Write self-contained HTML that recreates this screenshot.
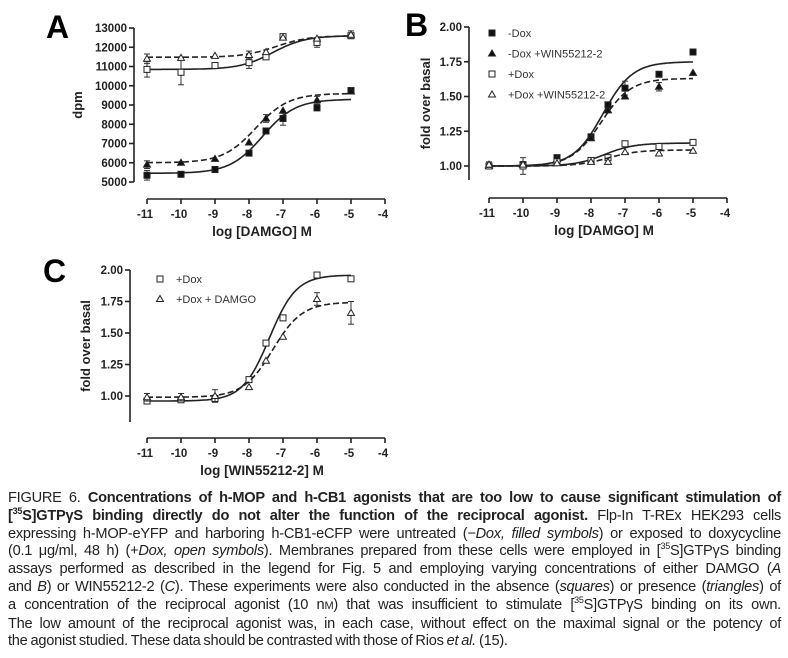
<!DOCTYPE html>
<html><head><meta charset="utf-8">
<style>
html,body{margin:0;padding:0;background:#fff;}
body{width:788px;height:658px;position:relative;overflow:hidden;font-family:"Liberation Sans",sans-serif;}
#cap{position:absolute;left:8px;top:490px;width:773px;font-size:14.6px;line-height:17.8px;color:#222;letter-spacing:-0.25px;word-spacing:-0.8px;}
#cap div{text-align:justify;text-align-last:justify;white-space:nowrap;}
#cap div.last{text-align-last:left;}
sup{font-size:9px;line-height:0;}
</style></head><body>
<svg id="fig" width="788" height="480" style="position:absolute;left:0;top:0" font-family="Liberation Sans, sans-serif"></svg>
<div id="cap">
<div>FIGURE 6. <b>Concentrations of h-MOP and h-CB1 agonists that are too low to cause significant stimulation of</b></div>
<div><b>[<sup>35</sup>S]GTPγS binding directly do not alter the function of the reciprocal agonist.</b> Flp-In T-REx HEK293 cells</div>
<div>expressing h-MOP-eYFP and harboring h-CB1-eCFP were untreated (−<i>Dox, filled symbols</i>) or exposed to doxycycline</div>
<div>(0.1 μg/ml, 48 h) (+<i>Dox, open symbols</i>). Membranes prepared from these cells were employed in [<sup>35</sup>S]GTPγS binding</div>
<div>assays performed as described in the legend for Fig. 5 and employing varying concentrations of either DAMGO (<i>A</i></div>
<div>and <i>B</i>) or WIN55212-2 (<i>C</i>). These experiments were also conducted in the absence (<i>squares</i>) or presence (<i>triangles</i>) of</div>
<div>a concentration of the reciprocal agonist (10 n<span style="font-size:11px">M</span>) that was insufficient to stimulate [<sup>35</sup>S]GTPγS binding on its own.</div>
<div>The low amount of the reciprocal agonist was, in each case, without effect on the maximal signal or the potency of</div>
<div class="last">the agonist studied. These data should be contrasted with those of Rios <i>et al.</i> (15).</div>
</div>
<script>
const xDoses = [-11,-10,-9,-8,-7.5,-7,-6,-5];
const xTicks = [-11,-10,-9,-8,-7,-6,-5,-4];
// Panel A
const aTicks = [5000,6000,7000,8000,9000,10000,11000,12000,13000];
const aOpenSq = [10850,10700,11050,11200,11500,12550,12250,12600];
const aOpenTri = [11400,11450,11550,11600,11750,12500,12450,12650];
const aFillSq = [5350,5400,5650,6500,7650,8300,8850,9750];
const aFillTri = [5900,6000,6200,7050,8300,8700,9250,9700];
// Panel B
const bTicks = [1.00,1.25,1.50,1.75,2.00];
const bFillSq = [1.00,1.01,1.06,1.21,1.44,1.56,1.66,1.82];
const bFillTri = [1.00,1.01,1.05,1.20,1.40,1.50,1.57,1.67];
const bOpenSq = [1.00,1.00,1.03,1.04,1.06,1.16,1.14,1.17];
const bOpenTri = [1.01,1.01,1.02,1.03,1.03,1.10,1.09,1.11];
// Panel C
const cTicks = [1.00,1.25,1.50,1.75,2.00];
const cOpenSq = [0.96,0.97,0.98,1.13,1.42,1.62,1.96,1.93];
const cOpenTri = [0.99,0.99,1.00,1.07,1.28,1.47,1.77,1.66];

const NS='http://www.w3.org/2000/svg';
const svg=document.getElementById('fig');
function el(tag,attrs,parent,text){const e=document.createElementNS(NS,tag);for(const k in attrs)e.setAttribute(k,attrs[k]);if(text!==undefined)e.textContent=text;(parent||svg).appendChild(e);return e;}
function fit(x,b,t,ec,h){return b+(t-b)/(1+Math.pow(10,(ec-x)*h));}

function panel(cfg){
  const g=el('g',{});
  
  
  const X=v=>cfg.x0+(v+11)*34;
  const Y=v=>cfg.yTop+(cfg.yMax-v)/(cfg.yMax-cfg.yMin)*(cfg.yBot-cfg.yTop);
  const L=el('text',{x:cfg.lx,y:cfg.ly,'font-size':32,'font-weight':'bold'},g,cfg.letter);
  
  const ya=el('g',{},g);
  el('line',{x1:cfg.ax,x2:cfg.ax,y1:Y(cfg.yMax),y2:cfg.yAxisEnd,stroke:'#222','stroke-width':1.6},ya);
  cfg.yTicks.forEach(t=>{
    el('line',{x1:cfg.ax-5,x2:cfg.ax,y1:Y(t),y2:Y(t),stroke:'#222','stroke-width':1.6},ya);
    const tx=el('text',{x:cfg.ax-7,y:Y(t)+4,'font-size':11.5,'font-weight':'bold','text-anchor':'end',fill:'#222'},ya,cfg.fmt(t));
    
  });
  const yt=el('text',{transform:`translate(${cfg.ytx},${(Y(cfg.yMax)+cfg.yAxisEnd)/2}) rotate(-90)`,'font-size':13,'font-weight':'bold','text-anchor':'middle',fill:'#222'},g,cfg.ylabel);
  
  const xa=el('g',{},g);
  el('line',{x1:X(-11),x2:X(-4),y1:cfg.xAxY,y2:cfg.xAxY,stroke:'#222','stroke-width':1.6},xa);
  xTicks.forEach(t=>{
    el('line',{x1:X(t),x2:X(t),y1:cfg.xAxY,y2:cfg.xAxY+5,stroke:'#222','stroke-width':1.6},xa);
    const tx=el('text',{x:X(t)-2,y:cfg.xAxY+19,'font-size':11.5,'font-weight':'bold','text-anchor':'middle',fill:'#222'},xa,String(t));
    
  });
  const xt=el('text',{x:(X(-11)+X(-4))/2-4,y:cfg.xAxY+37,'font-size':13.5,'font-weight':'bold','text-anchor':'middle',fill:'#222'},g,cfg.xlabel);
  
  cfg.series.forEach(s=>{
    const sg=el('g',{},g);
    
    let d='';
    for(let x=-11;x<=-4.95;x+=0.05){const xx=Math.min(x,-5);d+=(d?'L':'M')+X(xx).toFixed(1)+','+Y(fit(xx,s.fit[0],s.fit[1],s.fit[2],s.fit[3])).toFixed(1);}
    el('path',{d,fill:'none',stroke:'#222','stroke-width':1.6,'stroke-dasharray':s.dash?'6,3':'none'},sg);
    (s.err||[]).forEach(e=>{
      const v=s.vals[e[0]];const px=X(xDoses[e[0]]);
      el('line',{x1:px,x2:px,y1:Y(v+e[1]),y2:Y(v-e[1]),stroke:'#333','stroke-width':1},sg);
      el('line',{x1:px-3,x2:px+3,y1:Y(v+e[1]),y2:Y(v+e[1]),stroke:'#333','stroke-width':1},sg);
      el('line',{x1:px-3,x2:px+3,y1:Y(v-e[1]),y2:Y(v-e[1]),stroke:'#333','stroke-width':1},sg);
    });
    s.vals.forEach((v,i)=>{
      const m=marker(sg,s.shape,s.filled,X(xDoses[i]),Y(v));
      
    });
  });
  (cfg.legend||[]).forEach((l,i)=>{
    const lg=el('g',{},g);
    marker(lg,l.shape,l.filled,cfg.legX,cfg.legY+i*cfg.legDy-4);
    el('text',{x:cfg.legX+16,y:cfg.legY+i*cfg.legDy,'font-size':11,fill:'#333'},lg,l.text);
  });
}
function marker(p,shape,filled,x,y){
  if(shape==='sq') return el('rect',{x:x-3,y:y-3,width:6,height:6,fill:filled?'#111':'#fff',stroke:'#222','stroke-width':1},p);
  return el('path',{d:`M${x},${y-3.5}L${x+3.5},${y+2.5}L${x-3.5},${y+2.5}Z`,fill:filled?'#111':'#fff',stroke:'#222','stroke-width':1},p);
}

panel({name:'panel-a',letter:'A',lx:46,ly:38,x0:147,ax:134,yTop:28,yBot:182,yMax:13000,yMin:5000,yAxisEnd:182,
  yTicks:aTicks,fmt:t=>String(t),ytx:82,ylabel:'dpm',xAxY:199,xlabel:'log [DAMGO] M',
  series:[
   {name:'series-plus-dox',shape:'sq',filled:false,dash:false,vals:aOpenSq,fit:[10850,12600,-7.3,0.9],err:[[0,400],[1,650],[3,300],[6,250]]},
   {name:'series-plus-dox-win',shape:'tri',filled:false,dash:true,vals:aOpenTri,fit:[11480,12600,-7.2,0.9],err:[[0,250],[3,200],[7,200]]},
   {name:'series-minus-dox',shape:'sq',filled:true,dash:false,vals:aFillSq,fit:[5450,9300,-7.6,0.9],err:[[0,250],[5,350]]},
   {name:'series-minus-dox-win',shape:'tri',filled:true,dash:true,vals:aFillTri,fit:[6000,9600,-7.8,0.9],err:[[0,200],[4,200],[6,200]]}
  ]});
panel({name:'panel-b',letter:'B',lx:405,ly:36,x0:489,ax:469,yTop:27,yBot:166,yMax:2.0,yMin:1.0,yAxisEnd:180,
  yTicks:bTicks,fmt:t=>t.toFixed(2),ytx:430,ylabel:'fold over basal',xAxY:198,xlabel:'log [DAMGO] M',
  legend:[{shape:'sq',filled:true,text:'-Dox'},{shape:'tri',filled:true,text:'-Dox +WIN55212-2'},{shape:'sq',filled:false,text:'+Dox'},{shape:'tri',filled:false,text:'+Dox +WIN55212-2'}],
  legX:492,legY:37,legDy:20.5,
  series:[
   {name:'series-minus-dox',shape:'sq',filled:true,dash:false,vals:bFillSq,fit:[1.00,1.75,-7.65,1.0],err:[[0,0.02],[5,0.05],[7,0.02]]},
   {name:'series-minus-dox-win',shape:'tri',filled:true,dash:true,vals:bFillTri,fit:[1.00,1.63,-7.7,1.0],err:[[6,0.03]]},
   {name:'series-plus-dox',shape:'sq',filled:false,dash:false,vals:bOpenSq,fit:[1.00,1.165,-7.6,1.0],err:[[1,0.06],[3,0.02]]},
   {name:'series-plus-dox-win',shape:'tri',filled:false,dash:true,vals:bOpenTri,fit:[1.00,1.115,-7.5,1.0],err:[[0,0.02]]}
  ]});
panel({name:'panel-c',letter:'C',lx:43,ly:282,x0:147,ax:130,yTop:270,yBot:396,yMax:2.0,yMin:1.0,yAxisEnd:422,
  yTicks:cTicks,fmt:t=>t.toFixed(2),ytx:90,ylabel:'fold over basal',xAxY:438,xlabel:'log [WIN55212-2] M',
  legend:[{shape:'sq',filled:false,text:'+Dox'},{shape:'tri',filled:false,text:'+Dox + DAMGO'}],
  legX:160,legY:283,legDy:20,
  series:[
   {name:'series-plus-dox',shape:'sq',filled:false,dash:false,vals:cOpenSq,fit:[0.96,1.96,-7.4,1.1],err:[[1,0.02],[2,0.02]]},
   {name:'series-plus-dox-damgo',shape:'tri',filled:false,dash:true,vals:cOpenTri,fit:[0.99,1.745,-7.3,1.0],err:[[0,0.03],[1,0.03],[2,0.05],[6,0.05],[7,0.09]]}
  ]});
</script>
</body></html>
